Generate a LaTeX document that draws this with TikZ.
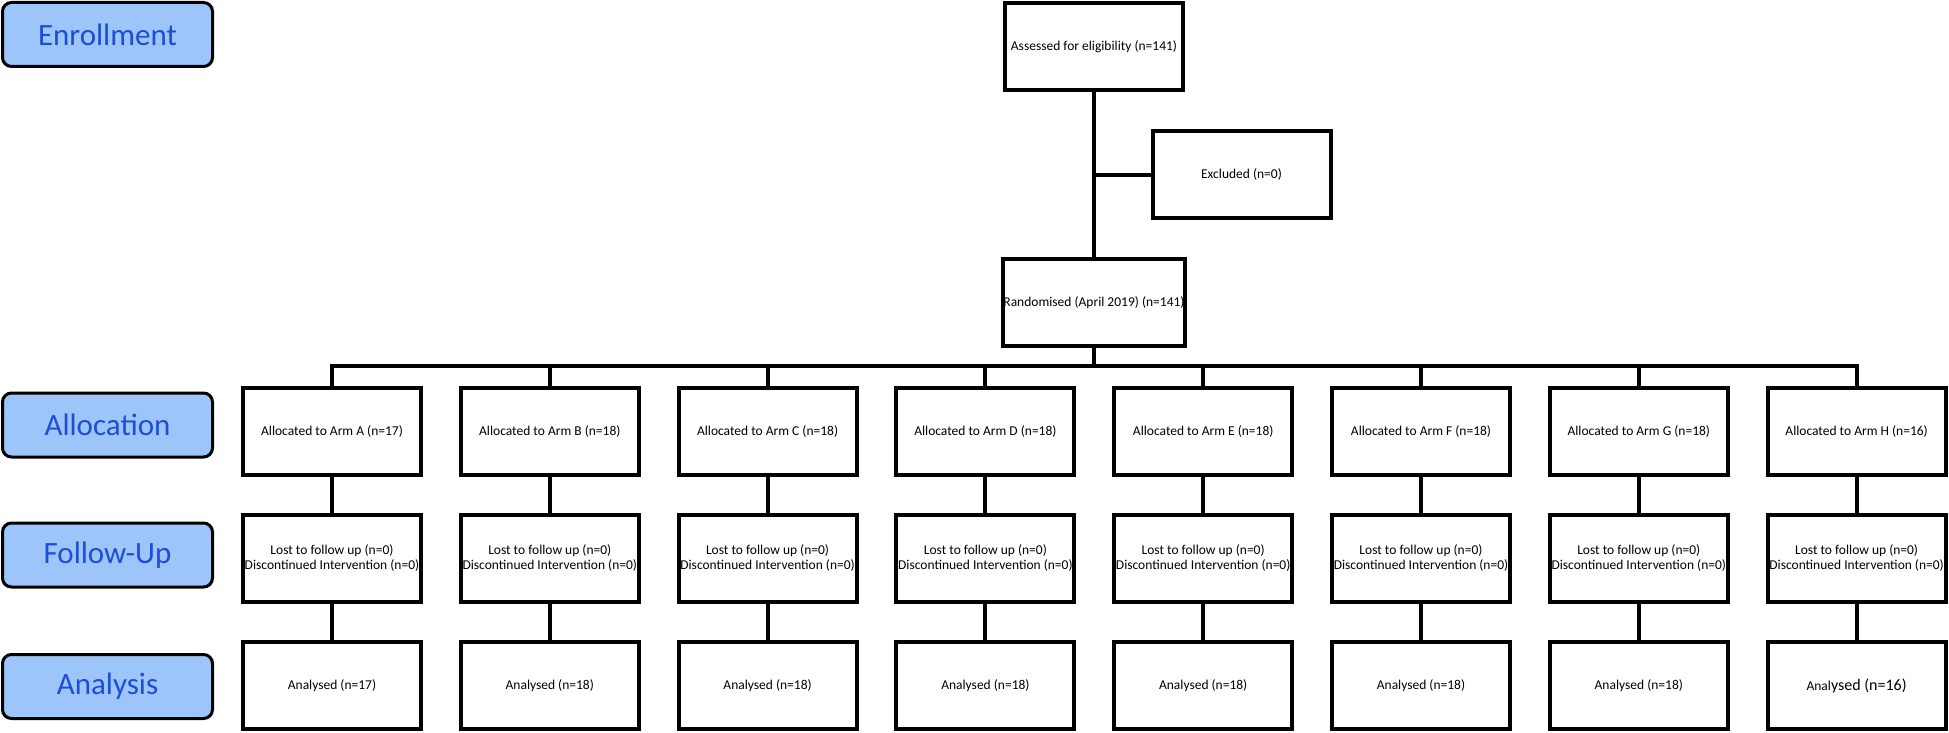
\documentclass[tikz,border=0pt]{standalone}
\usepackage{fontspec}
\setmainfont{Carlito}
\definecolor{stagefill}{RGB}{158,197,250}
\definecolor{stageink}{RGB}{28,78,214}

\tikzset{
  stagebox/.style={draw=black, line width=3pt, rounded corners=9pt, fill=stagefill,
    text=stageink, minimum width=210pt, minimum height=64pt, inner sep=0pt,
    font=\fontsize{31}{34}\selectfont},
  flowbox/.style={draw=black, line width=4pt, fill=white, minimum width=178pt,
    minimum height=87pt, inner sep=0pt, align=center, font=\fontsize{13.5}{15}\selectfont},
  link/.style={draw=black, line width=4pt}
}

\begin{document}
\begin{tikzpicture}[x=1pt, y=-1pt]
      \useasboundingbox (0,0) rectangle (1949,733);

      % stage labels down the left
      \node[stagebox] (enrol) at(107.5, 34.5) {Enrollment};
      \node[stagebox] (alloc) at(107.5, 425) {Allocation};
      \node[stagebox] (follow) at(107.5, 555) {Follow-Up};
      \node[stagebox] (anal) at(107.5, 686.5) {Analysis};

      \node[flowbox] (assess) at(1094, 47) {Assessed for eligibility (n=141)};
      \node[flowbox] (excl) at(1241.5, 174.5) {Excluded (n=0)};
      \node[flowbox] (rand) at(1094, 302.5) {Randomised (April 2019) (n=141)};

      \coordinate (split) at (assess.south |- excl.west);
      \coordinate (bar) at(1094, 366);
      \draw[link] (assess) -- (rand);
      \draw[link] (split) -- (excl.west);
      \draw[link] (rand) -- (bar);

      % one column per arm
      \foreach \a/\n [count=\i from 0] in {A/17,B/18,C/18,D/18,E/18,F/18,G/18,H/16}{
        \node[flowbox] (alloc-\a) at(332 + 217.8*\i, 431) {Allocated to Arm \a{} (n=\n)};
        \node[flowbox] (follow-\a) at(332 + 217.8*\i, 558) {Lost to follow up (n=0)\\Discontinued Intervention (n=0)};
        \coordinate (top-\a) at (alloc-\a.north |- bar);
        \draw[link] (top-\a) -- (alloc-\a.north);
        \draw[link] (alloc-\a) -- (follow-\a);
      }
      \foreach \a/\n [count=\i from 0] in {A/17,B/18,C/18,D/18,E/18,F/18,G/18}{
        \node[flowbox] (anal-\a) at(332 + 217.8*\i, 685.5) {Analysed (n=\n)};
        \draw[link] (follow-\a) -- (anal-\a);
      }
      \node[flowbox] (anal-H) at(332 + 217.8*7, 685.5) {Anal{\fontsize{16}{18}\selectfont ysed (n=16)}};
      \draw[link] (follow-H) -- (anal-H);

      \draw[link] ([xshift=-2pt]top-A) -- ([xshift=2pt]top-H);
\end{tikzpicture}
\end{document}
